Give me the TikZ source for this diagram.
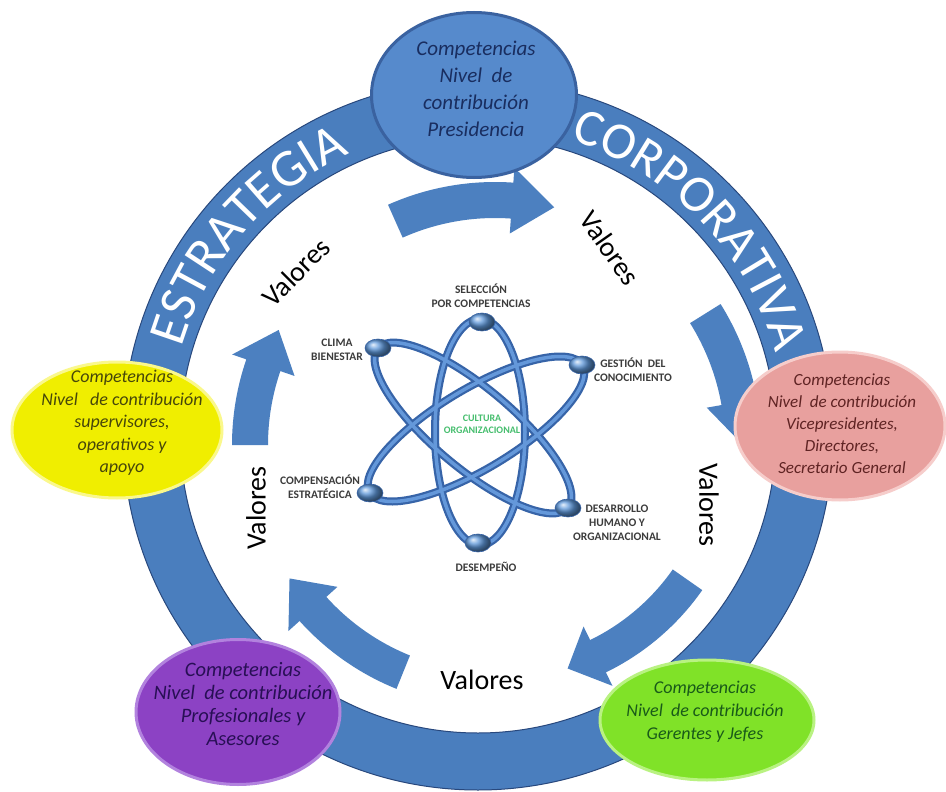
\documentclass[tikz,border=0pt]{standalone}
\usepackage{fontspec}
\setmainfont{Carlito}
\usetikzlibrary{shapes.geometric,decorations.text,calc}
\definecolor{ringblue}{RGB}{74,126,190}
\definecolor{ringedge}{RGB}{40,72,125}
\definecolor{arrowblue}{RGB}{76,128,192}
\definecolor{atomdark}{RGB}{55,100,168}
\definecolor{atomlight}{RGB}{100,152,218}
\definecolor{atomball}{RGB}{95,152,218}
\definecolor{atomtext}{RGB}{60,60,60}
\definecolor{cultgreen}{RGB}{70,190,110}
\definecolor{presfill}{RGB}{86,138,204}
\definecolor{presedge}{RGB}{58,98,160}
\definecolor{prestext}{RGB}{25,45,95}
\definecolor{pinkfill}{RGB}{232,160,158}
\definecolor{pinkedge}{RGB}{246,205,203}
\definecolor{pinktext}{RGB}{95,35,35}
\definecolor{yelfill}{RGB}{240,238,0}
\definecolor{yeledge}{RGB}{250,248,140}
\definecolor{yeltext}{RGB}{70,70,10}
\definecolor{purfill}{RGB}{140,66,196}
\definecolor{puredge}{RGB}{178,130,222}
\definecolor{purtext}{RGB}{40,15,85}
\definecolor{grnfill}{RGB}{128,226,40}
\definecolor{grnedge}{RGB}{185,242,130}
\definecolor{grntext}{RGB}{25,90,25}
\tikzset{
  levelbox/.style={ellipse, inner sep=0pt, line width=3pt},
  leveltext/.style={align=center, inner sep=0pt},
  valtext/.style={font=\fontsize{28}{30}\selectfont, text=black, inner sep=0pt},
  atomlbl/.style={font=\bfseries\fontsize{11.5}{14}\selectfont, text=atomtext, align=center, inner sep=0pt},
  atomring/.style={line width=8pt, draw=atomdark},
  atomringhi/.style={line width=3.5pt, draw=atomlight},
  atomball/.style={ellipse, minimum width=26pt, minimum height=18pt, inner sep=0pt, ball color=atomball, draw=atomdark, line width=0.6pt},
}
\newcommand\valArrow[4]{%
  \pgfmathsetmacro\arOut{#4+18}\pgfmathsetmacro\arIn{#4-18}%
  \pgfmathsetmacro\hdOut{#4+33}\pgfmathsetmacro\hdIn{#4-33}%
  \fill[arrowblue] ($(ac)+(#1:\arOut)$) arc[start angle=#1, end angle=#2, radius=\arOut]
    -- ($(ac)+(#2:\hdOut)$) -- ($(ac)+(#3:#4)$) -- ($(ac)+(#2:\hdIn)$)
    -- ($(ac)+(#2:\arIn)$) arc[start angle=#2, end angle=#1, radius=\arIn] -- cycle;}
\begin{document}
\begin{tikzpicture}[x=1pt,y=-1pt]
\path[use as bounding box, fill=white] (0,0) rectangle (946,792);
\coordinate (rc) at (478,435);
\coordinate (ac) at (495,445);
% ring
\fill[ringblue, even odd rule, draw=ringedge, line width=1pt]
  (rc) circle [radius=355]
  (rc) circle [radius=298];
% ring text
\path[decorate, decoration={text along path, text align=center,
  text={|\color{white}\fontsize{53}{53}\selectfont|ESTRATEGIA}}]
  ($(rc)+(181:309)$) arc[start angle=181, end angle=261, radius=309];
\path[decorate, decoration={text along path, text align=center,
  text={|\color{white}\fontsize{52}{52}\selectfont|CORPORATIVA}}]
  ($(rc)+(276:309)$) arc[start angle=276, end angle=356, radius=309];
% inner arrows
\valArrow{246}{274}{284}{245}
\valArrow{328}{350}{360}{248}
\valArrow{35}{64}{72}{235}
\valArrow{112}{138}{147}{245}
\valArrow{180}{199}{208}{245}
% valores
\node[valtext, rotate=45] (v1) at (296,272) {Valores};
\node[valtext, rotate=-55] (v2) at (610,248) {Valores};
\node[valtext, rotate=-90] (v3) at (709,505) {Valores};
\node[valtext] (v4) at (482,680) {Valores};
\node[valtext, rotate=90] (v5) at (256,508) {Valores};
% atom
\draw[atomring] (480,432) ellipse [x radius=45, y radius=113];
\draw[atomring, rotate around={-40:(473,428)}] (473,428) ellipse [x radius=124, y radius=40];
\draw[atomring, rotate around={31:(476,429)}] (476,429) ellipse [x radius=124, y radius=40];
\draw[atomringhi] (480,432) ellipse [x radius=45, y radius=113];
\draw[atomringhi, rotate around={-40:(473,428)}] (473,428) ellipse [x radius=124, y radius=40];
\draw[atomringhi, rotate around={31:(476,429)}] (476,429) ellipse [x radius=124, y radius=40];
\node[atomball] (bsel) at (482,322) {};
\node[atomball] (bcli) at (378,348) {};
\node[atomball] (bges) at (582,365) {};
\node[atomball] (bcom) at (370,493) {};
\node[atomball] (bdes) at (568,508) {};
\node[atomball] (bdem) at (478,543) {};
\node[atomlbl] (lsel) at (481,296) {SELECCIÓN\\POR COMPETENCIAS};
\node[atomlbl] (lcli) at (337,350) {CLIMA\\BIENESTAR};
\node[atomlbl] (lges) at (633,370) {GESTIÓN~ DEL\\CONOCIMIENTO};
\node[atomlbl] (lcom) at (320,487) {COMPENSACIÓN\\ESTRATÉGICA};
\node[atomlbl] (ldes) at (617,523) {DESARROLLO\\HUMANO Y\\ORGANIZACIONAL};
\node[atomlbl] (ldem) at (486,567) {DESEMPEÑO};
\node[atomlbl, text=cultgreen, font=\bfseries\fontsize{10}{12}\selectfont] (lcul) at (482,424) {CULTURA\\ORGANIZACIONAL};
% level ellipses
\node[levelbox, fill=presfill, draw=presedge, minimum width=205pt, minimum height=165pt] (pres) at (474,95) {};
\node[leveltext, text=prestext, font=\itshape\fontsize{21}{27}\selectfont] (prestxt) at (476,89)
  {Competencias\\Nivel~ de\\contribución\\Presidencia};
\node[levelbox, fill=pinkfill, draw=pinkedge, minimum width=210pt, minimum height=148pt] (vice) at (840,426) {};
\node[leveltext, text=pinktext, font=\itshape\fontsize{17}{22}\selectfont] (vicetxt) at (842,424)
  {Competencias\\Nivel~ de contribución\\Vicepresidentes,\\Directores,\\Secretario General};
\node[levelbox, fill=yelfill, draw=yeledge, minimum width=210pt, minimum height=136pt] (sup) at (117,430) {};
\node[leveltext, text=yeltext, font=\itshape\fontsize{18}{22.5}\selectfont] (suptxt) at (122,423)
  {Competencias\\Nivel~~ de~contribución\\supervisores,\\operativos y\\apoyo};
\node[levelbox, fill=purfill, draw=puredge, minimum width=204pt, minimum height=145pt] (prof) at (238,712) {};
\node[leveltext, text=purtext, font=\itshape\fontsize{20.5}{23}\selectfont] (proftxt) at (243,704)
  {Competencias\\Nivel~ de contribución\\Profesionales y\\Asesores};
\node[levelbox, fill=grnfill, draw=grnedge, minimum width=214pt, minimum height=120pt] (ger) at (707,720) {};
\node[leveltext, text=grntext, font=\itshape\fontsize{18}{23}\selectfont] (gertxt) at (705,712)
  {Competencias\\Nivel~ de contribución\\Gerentes y Jefes};
\end{tikzpicture}
\end{document}
